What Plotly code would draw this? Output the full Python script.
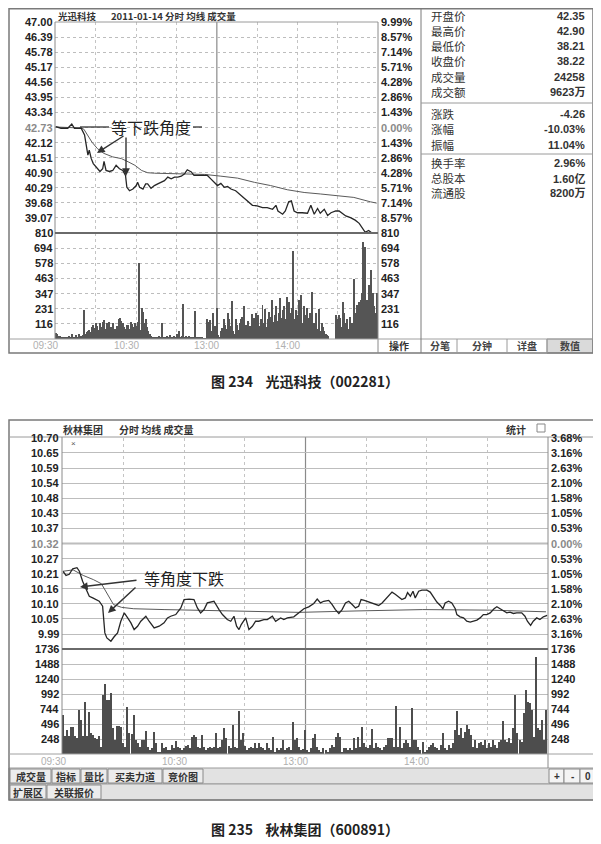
import plotly.graph_objects as go

# page is shown with the browser's default 8px body margin, so the figure is
# sized 8px smaller and all layout positions below are given in page pixels.
PAGE_OFF = 8
W, H = 601 - PAGE_OFF, 844 - PAGE_OFF
CJK = "Noto Sans CJK SC"
LAT = "Liberation Sans"

# ======================= DATA =======================
# ---- Chart 1: 光迅科技 2011-01-14 ----
c1_base = 42.73
c1_pct = [9.99, 8.57, 7.14, 5.71, 4.28, 2.86, 1.43, 0.00, -1.43, -2.86, -4.28, -5.71, -7.14, -8.57]
c1_price_labels = ["47.00", "46.39", "45.78", "45.17", "44.56", "43.95", "43.34", "42.73",
                   "42.12", "41.51", "40.90", "40.29", "39.68", "39.07"]
c1_pct_labels = ["9.99%", "8.57%", "7.14%", "5.71%", "4.28%", "2.86%", "1.43%", "0.00%",
                 "1.43%", "2.86%", "4.28%", "5.71%", "7.14%", "8.57%"]
c1_price_range = [38.46, 47.00]
c1_vol_ticks = [810, 694, 578, 463, 347, 231, 116]
c1_vol_max = 810

c1_price = [(0, 42.77), (4, 42.70), (9, 42.70), (12, 42.87), (14, 42.70), (19, 42.70), (21.5, 42.43),
            (23, 41.88), (24, 41.61), (25, 41.81), (26.5, 41.47), (28, 41.27), (30, 41.13), (33, 40.95),
            (35, 41.06), (36, 41.36), (37.5, 40.99), (40, 40.95), (42.5, 40.99), (45, 41.20), (47.5, 41.06),
            (50, 40.99), (52, 40.79), (53, 40.31), (55, 40.17), (57.5, 40.24), (60, 40.38), (61, 40.51),
            (62.5, 40.31), (65, 40.24), (67, 40.45), (68.5, 40.45), (71, 40.27), (73.5, 40.38), (76, 40.45),
            (78.5, 40.51), (81, 40.58), (83.5, 40.72), (86, 40.65), (88.5, 40.72), (91, 40.72), (93.5, 40.76),
            (96, 40.86), (98, 41.02), (101, 40.93), (103, 40.79), (105.5, 40.79), (109, 40.82), (113, 40.79),
            (115.5, 40.65), (118, 40.51), (120.5, 40.38), (123, 40.47), (125.5, 40.31), (128, 40.34),
            (130.5, 40.24), (134, 40.17), (138, 39.97), (141.5, 39.83), (144, 39.67), (146.5, 39.58),
            (150, 39.56), (154, 39.49), (157.5, 39.49), (161.5, 39.42), (164, 39.58), (165.5, 39.35),
            (169, 39.22), (171, 39.35), (173.5, 39.72), (175.5, 39.76), (177.5, 39.35), (180, 39.28),
            (183.5, 39.28), (187.5, 39.26), (190, 39.58), (192.5, 39.22), (195, 39.45), (197, 39.26),
            (200, 39.42), (202.5, 39.17), (205, 39.28), (208.5, 39.35), (211, 39.35), (213.5, 39.26),
            (216, 39.15), (219.5, 39.08), (223, 38.98), (226, 38.85), (228, 38.67), (230.5, 38.49),
            (233, 38.56), (235.5, 38.46), (239, 38.46)]

c1_avg = [(0, 42.75), (10, 42.73), (19, 42.71), (21, 42.66), (23, 42.49), (27, 42.14), (31, 41.88),
          (36, 41.68), (42.5, 41.54), (49, 41.47), (54, 41.34), (59, 41.20), (64, 40.99), (68.5, 40.90),
          (73.5, 40.88), (86, 40.87), (98, 40.86), (111, 40.83), (123, 40.76), (135.5, 40.68),
          (148, 40.51), (160, 40.38), (172.5, 40.21), (185, 40.10), (197, 40.04), (210, 39.97),
          (222, 39.90), (234.5, 39.72), (239, 39.67)]

c1_vol = [45, 35, 25, 20, 15, 12, 10, 8, 12, 15,
          20, 12, 35, 10, 8, 30, 12, 40, 15, 20,
          30, 222, 35, 50, 60, 70, 55, 95, 110, 85,
          120, 100, 70, 125, 90, 130, 145, 75, 120, 110,
          130, 90, 60, 125, 80, 45, 100, 150, 160, 135,
          120, 90, 75, 110, 105, 80, 130, 115, 95, 120,
          100, 130, 578, 70, 234, 209, 120, 150, 90, 60,
          40, 25, 15, 12, 10, 18, 8, 20, 10, 120,
          12, 15, 10, 25, 12, 30, 18, 12, 25, 10,
          35, 30, 60, 15, 20, 267, 15, 25, 12, 20,
          15, 18, 12, 10, 214, 12, 15, 10, 8, 10,
          5, 4, 3, 150, 130, 145, 60, 196, 40, 100,
          234, 30, 15, 60, 85, 150, 110, 80, 196, 150,
          100, 293, 60, 40, 150, 110, 70, 120, 150, 165,
          252, 60, 110, 140, 90, 100, 190, 120, 160, 200,
          120, 180, 100, 150, 260, 120, 230, 90, 150, 210,
          170, 298, 130, 180, 250, 140, 200, 310, 160, 220,
          250, 150, 323, 200, 280, 200, 240, 675, 150, 220,
          180, 300, 200, 336, 120, 250, 180, 240, 160, 200,
          150, 362, 120, 100, 200, 80, 227, 60, 120, 90,
          60, 40, 30, 20, 0, 0, 0, 0, 0, 183,
          150, 180, 160, 90, 285, 200, 120, 150, 80, 170,
          100, 120, 456, 200, 260, 180, 280, 300, 350, 744,
          705, 250, 300, 412, 280, 527, 350, 250, 200, 351]

c1_stats = [("开盘价", "42.35"), ("最高价", "42.90"), ("最低价", "38.21"), ("收盘价", "38.22"),
            ("成交量", "24258"), ("成交额", "9623万"), ("涨跌", "-4.26"), ("涨幅", "-10.03%"),
            ("振幅", "11.04%"), ("换手率", "2.96%"), ("总股本", "1.60亿"), ("流通股", "8200万")]
c1_tabs = ["分笔", "分钟", "详盘", "数值"]

# ---- Chart 2: 秋林集团 ----
c2_base = 10.32
c2_pct = [3.68, 3.16, 2.63, 2.10, 1.58, 1.05, 0.53, 0.00, -0.53, -1.05, -1.58, -2.10, -2.63, -3.16]
c2_price_labels = ["10.70", "10.65", "10.59", "10.54", "10.48", "10.43", "10.37", "10.32",
                   "10.27", "10.21", "10.16", "10.10", "10.05", "9.99"]
c2_pct_labels = ["3.68%", "3.16%", "2.63%", "2.10%", "1.58%", "1.05%", "0.53%", "0.00%",
                 "0.53%", "1.05%", "1.58%", "2.10%", "2.63%", "3.16%"]
c2_price_range = [9.94, 10.70]
c2_vol_ticks = [1736, 1488, 1240, 992, 744, 496, 248]
c2_vol_max = 1736

c2_price = [(0, 10.220), (1.5, 10.205), (3.1, 10.209), (4.8, 10.229), (6.9, 10.233), (8.1, 10.22),
            (9.7, 10.184), (11.4, 10.154), (13, 10.13), (14.7, 10.124), (16.3, 10.118), (17.9, 10.112),
            (19.6, 10.094), (20.7, 9.998), (21.7, 9.98), (23.7, 9.968), (25.3, 9.984), (27, 9.998),
            (28.6, 10.04), (30.3, 10.07), (32, 10.052), (33.6, 10.034), (35.2, 10.01), (36.9, 10.022),
            (38.5, 10.04), (41, 10.058), (42.6, 10.04), (45.1, 10.016), (47.6, 10.022), (50, 10.034),
            (51.7, 10.052), (53.3, 10.058), (55.8, 10.064), (58.3, 10.088), (59.9, 10.118), (62.4, 10.12),
            (64.8, 10.118), (66.5, 10.088), (68.1, 10.07), (69.8, 10.082), (71.4, 10.106), (74.7, 10.112),
            (77.2, 10.082), (78.9, 10.064), (81.3, 10.046), (83, 10.04), (84.6, 10.058), (85.9, 10.022),
            (87.1, 10.01), (88.2, 10.028), (90.4, 10.052), (92, 10.01), (93.7, 10.022), (95.3, 10.04),
            (96.9, 10.04), (99.4, 10.046), (101.1, 10.046), (103.6, 10.058), (105.2, 10.04),
            (107.7, 10.052), (109.3, 10.046), (111, 10.052), (114.2, 10.056), (116.7, 10.07),
            (119.2, 10.085), (121.6, 10.092), (124.1, 10.104), (125.8, 10.12), (127.4, 10.106),
            (129, 10.112), (131.5, 10.115), (133.2, 10.1), (134.8, 10.082), (136.5, 10.068),
            (138.1, 10.082), (139.8, 10.106), (141.4, 10.112), (143.1, 10.1), (144.7, 10.088),
            (146.3, 10.094), (147.5, 10.118), (149.1, 10.115), (151.3, 10.109), (152.9, 10.106),
            (154.6, 10.1), (156.2, 10.097), (157.9, 10.106), (160.3, 10.124), (162.8, 10.145),
            (164.4, 10.137), (166.1, 10.128), (167.7, 10.118), (169.4, 10.124), (170.5, 10.143),
            (171.9, 10.13), (173.2, 10.148), (174.3, 10.124), (176, 10.148), (177.6, 10.152),
            (180.1, 10.152), (181.7, 10.145), (183.4, 10.124), (185, 10.109), (186.7, 10.097),
            (188, 10.085), (189.1, 10.106), (190.8, 10.112), (192.4, 10.106), (194.1, 10.085),
            (194.9, 10.064), (196.5, 10.056), (198.2, 10.052), (199.8, 10.04), (201.5, 10.037),
            (203.1, 10.04), (204.8, 10.044), (206.4, 10.052), (208, 10.064), (209.7, 10.064),
            (211.4, 10.07), (213.3, 10.085), (214.7, 10.092), (216.3, 10.085), (217.9, 10.077),
            (219.6, 10.07), (221.2, 10.073), (222.9, 10.068), (224.5, 10.07), (227, 10.07),
            (228.6, 10.058), (229.8, 10.04), (231.4, 10.025), (232.7, 10.04), (234.4, 10.052),
            (236, 10.046), (237.7, 10.056), (239.6, 10.061)]

c2_avg = [(0, 10.22), (5, 10.225), (10, 10.205), (15, 10.19), (19, 10.175), (21, 10.15), (23, 10.12),
          (25, 10.10), (29, 10.09), (35, 10.085), (50, 10.082), (85, 10.077), (117, 10.072),
          (145, 10.077), (178, 10.082), (211, 10.08), (239, 10.074)]

c2_vol = [645, 290, 397, 300, 440, 450, 290, 260, 727, 562,
          290, 865, 290, 700, 340, 310, 260, 240, 290, 120,
          975, 1157, 893, 893, 1003, 424, 230, 463, 463, 440,
          180, 120, 782, 341, 330, 645, 230, 180, 120, 230,
          230, 386, 120, 65, 95, 369, 180, 40, 30, 180,
          95, 120, 60, 70, 150, 95, 215, 120, 95, 65,
          95, 130, 150, 95, 287, 314, 287, 120, 95, 314,
          120, 65, 95, 120, 95, 120, 342, 95, 120, 230,
          424, 260, 130, 95, 480, 120, 95, 716, 230, 342,
          130, 65, 95, 120, 95, 180, 95, 180, 120, 95,
          65, 180, 95, 65, 287, 40, 95, 65, 95, 231,
          65, 95, 120, 60, 534, 230, 260, 120, 65, 80,
          397, 60, 40, 95, 259, 330, 120, 65, 40, 95,
          65, 40, 95, 150, 120, 287, 353, 287, 40, 95,
          95, 65, 95, 65, 260, 95, 287, 120, 440, 180,
          120, 95, 150, 408, 95, 180, 120, 95, 65, 120,
          150, 260, 270, 260, 120, 793, 120, 440, 95, 180,
          230, 180, 120, 755, 230, 230, 120, 65, 205, 40,
          65, 120, 150, 180, 120, 95, 65, 150, 342, 95,
          65, 150, 95, 180, 397, 716, 314, 424, 260, 370,
          480, 408, 314, 120, 230, 95, 180, 200, 150, 230,
          95, 180, 120, 230, 150, 95, 200, 230, 551, 230,
          200, 260, 180, 424, 975, 340, 230, 200, 672, 1058,
          865, 838, 720, 287, 1609, 424, 397, 562, 230, 727]

time_labels = ["09:30", "10:30", "13:00", "14:00"]
time_minutes = [0, 60, 120, 180]
c2_tabs_row1 = ["成交量", "指标", "量比", "买卖力道", "竞价图"]
c2_tabs_row2 = ["扩展区", "关联报价"]
c2_tabs_right = ["+", "-", "0"]


# ======================= HELPERS =======================
def px(x):
    return (x - PAGE_OFF) / W


def py(y):
    return 1 - (y - PAGE_OFF) / H


shapes = []
annotations = []


def line(x0, y0, x1, y1, color="#8c8c8c", width=1, dash="solid", layer="above"):
    shapes.append(dict(type="line", xref="paper", yref="paper", x0=px(x0), y0=py(y0),
                       x1=px(x1), y1=py(y1), line=dict(color=color, width=width, dash=dash),
                       layer=layer))


def rect(x0, y0, x1, y1, color="#8c8c8c", fill="rgba(0,0,0,0)", width=1, layer="above"):
    shapes.append(dict(type="rect", xref="paper", yref="paper", x0=px(x0), y0=py(y0),
                       x1=px(x1), y1=py(y1), line=dict(color=color, width=width),
                       fillcolor=fill, layer=layer))


def text(x, y, s, size=11, color="#222", xa="center", fam=CJK, xref="paper", yref="paper",
         xshift=0):
    annotations.append(dict(x=x, y=y, xref=xref, yref=yref, text=s, showarrow=False, xanchor=xa,
                            yanchor="middle", xshift=xshift, borderpad=0,
                            font=dict(family=fam, size=size, color=color)))


def arrow(tipx, tipy, tailx, taily):
    annotations.append(dict(x=px(tipx), y=py(tipy), xref="paper", yref="paper", text="",
                            showarrow=True, ax=tailx - tipx, ay=taily - tipy, arrowhead=2,
                            arrowsize=1.1, arrowwidth=1.4, arrowcolor="#333"))


# ======================= FIGURE =======================
fig = go.Figure()

# chart 1
fig.add_trace(go.Scatter(x=[t for t, _ in c1_avg], y=[v for _, v in c1_avg], xaxis="x", yaxis="y",
                         mode="lines", line=dict(color="#5a5a5a", width=1), hoverinfo="skip"))
fig.add_trace(go.Scatter(x=[t for t, _ in c1_price], y=[v for _, v in c1_price], xaxis="x", yaxis="y",
                         mode="lines", line=dict(color="#262626", width=1.3), hoverinfo="skip"))
fig.add_trace(go.Bar(x=list(range(len(c1_vol))), y=c1_vol, xaxis="x2", yaxis="y2", width=0.75,
                     marker=dict(color="#555555", line=dict(width=0)), hoverinfo="skip"))
# chart 2
fig.add_trace(go.Scatter(x=[t for t, _ in c2_avg], y=[v for _, v in c2_avg], xaxis="x3", yaxis="y3",
                         mode="lines", line=dict(color="#5a5a5a", width=1), hoverinfo="skip"))
fig.add_trace(go.Scatter(x=[t for t, _ in c2_price], y=[v for _, v in c2_price], xaxis="x3", yaxis="y3",
                         mode="lines", line=dict(color="#262626", width=1.3), hoverinfo="skip"))
fig.add_trace(go.Bar(x=list(range(len(c2_vol))), y=c2_vol, xaxis="x4", yaxis="y4", width=0.7,
                     marker=dict(color="#4d4d4d", line=dict(width=0)), hoverinfo="skip"))

c1_ticks = [c1_base * (1 + p / 100) for p in c1_pct]
c2_ticks = [c2_base * (1 + p / 100) for p in c2_pct]

xgrid = dict(showticklabels=False, ticks="", showline=False, zeroline=False, showgrid=True,
             gridcolor="#c4c4c4", griddash="dot", gridwidth=1,
             tickvals=[30, 60, 90, 150, 180, 210], range=[-0.5, 240], fixedrange=True)


def ygrid(vals, rng, dash):
    return dict(showticklabels=False, ticks="", showline=False, zeroline=False, showgrid=True,
                gridcolor="#bdbdbd", griddash=dash, gridwidth=1, tickvals=vals, range=rng,
                fixedrange=True)


fig.update_layout(
    width=W, height=H, margin=dict(l=0, r=0, t=0, b=0),
    paper_bgcolor="white", plot_bgcolor="white", showlegend=False, bargap=0,
    xaxis=dict(domain=[px(55), px(378)], anchor="y", **xgrid),
    yaxis=dict(domain=[py(233), py(22)], anchor="x", **ygrid(c1_ticks, c1_price_range, "dot")),
    xaxis2=dict(domain=[px(55), px(378)], anchor="y2", **xgrid),
    yaxis2=dict(domain=[py(339), py(233)], anchor="x2", **ygrid(c1_vol_ticks, [0, c1_vol_max], "dot")),
    xaxis3=dict(domain=[px(62), px(548)], anchor="y3", **xgrid),
    yaxis3=dict(domain=[py(649), py(438)], anchor="x3", **ygrid(c2_ticks, c2_price_range, "solid")),
    xaxis4=dict(domain=[px(62), px(548)], anchor="y4", **xgrid),
    yaxis4=dict(domain=[py(754), py(649)], anchor="x4", **ygrid(c2_vol_ticks, [0, c2_vol_max], "solid")),
)

# ---------------- chart 1 frame ----------------
rect(9, 8.8, 593, 353, color="#7a7a7a", width=1.5)
line(55, 22, 378, 22, color="#9a9a9a")
line(55, 22, 55, 339, color="#8a8a8a")
line(378, 22, 378, 353, color="#8a8a8a")
line(9, 339, 593, 339, color="#a0a0a0")
line(421, 8.8, 421, 353, color="#7a7a7a")
line(421, 103, 593, 103, color="#9a9a9a")
line(421, 154, 593, 154, color="#9a9a9a")
rect(547, 339, 593, 353, color="#9a9a9a", fill="#dadada", layer="below")
for xd in [457, 507, 547]:
    line(xd, 339, xd, 353, color="#9a9a9a")
line(55, 233, 378, 233, color="#6a6a6a", width=2)
shapes.append(dict(type="line", xref="x", yref="paper", x0=120, x1=120, y0=py(339), y1=py(22),
                   line=dict(color="#8a8a8a", width=1.2), layer="below"))

# chart 1 texts
text(px(57), py(15.5), "<b>光迅科技</b>", size=9.5, xa="left", color="#333")
text(px(110), py(15.5), "<b>2011-01-14 分时 均线 成交量</b>", size=9.5, xa="left", color="#333")
for lbl, pl, p in zip(c1_price_labels, c1_pct_labels, c1_pct):
    col = "#8a8a8a" if p == 0 else "#222"
    yv = c1_base * (1 + p / 100)
    text(px(54), yv, "<b>%s</b>" % lbl, size=11, xa="right", fam=LAT, yref="y", color=col)
    text(px(380), yv, "<b>%s</b>" % pl, size=11, xa="left", fam=LAT, yref="y", color=col)
for v in c1_vol_ticks:
    text(px(54), v, "<b>%d</b>" % v, size=11, xa="right", fam=LAT, yref="y2")
    text(px(380), v, "<b>%d</b>" % v, size=11, xa="left", fam=LAT, yref="y2")
for lbl, m in zip(time_labels, time_minutes):
    text(m, py(346), lbl, size=10, color="#b0b0b0", fam=LAT, xref="x", xshift=-10)
text(px(399), py(346), "<b>操作</b>", size=10, color="#333")
for lbl, cx in zip(c1_tabs, [440, 482, 527, 570]):
    text(px(cx), py(346), "<b>%s</b>" % lbl, size=10, color="#444")
stat_rows = [16, 31, 46, 61, 77, 92, 114, 129, 145, 163, 178, 193]
for (lbl, val), yy in zip(c1_stats, stat_rows):
    text(px(430), py(yy), lbl, size=11.5, xa="left", color="#333")
    text(px(586), py(yy), "<b>%s</b>" % val, size=11, xa="right", color="#333",
         fam=LAT + ", " + CJK)

# chart 1 annotation
line(80, 127, 109, 127, color="#333", width=1.3)
line(193, 127, 202, 127, color="#333", width=1.3)
text(px(151), py(127), "等下跌角度", size=16, color="#222")
arrow(97, 153, 125, 135)
arrow(126, 176, 126, 136)

text(px(305), py(381), "<b>图 234</b>    <b>光迅科技（002281）</b>", size=14, color="#222")

# ---------------- chart 2 frame ----------------
rect(9, 420, 595, 800, color="#7a7a7a", width=1.5)
line(9, 437, 595, 437, color="#9a9a9a")
line(62, 437, 62, 754, color="#8a8a8a")
line(548, 437, 548, 768, color="#8a8a8a")
line(9, 754, 595, 754, color="#a0a0a0")
rect(9, 768, 595, 784, color="#9a9a9a", fill="#e2e2e2", layer="below")
rect(9, 784, 595, 800, color="#9a9a9a", fill="#e2e2e2", layer="below")
line(62, 649, 548, 649, color="#6a6a6a", width=2)
shapes.append(dict(type="line", xref="paper", yref="y3", x0=px(62), x1=px(548), y0=c2_base, y1=c2_base,
                   line=dict(color="#7a7a7a", width=1.3), layer="below"))
shapes.append(dict(type="line", xref="x3", yref="paper", x0=120, x1=120, y0=py(754), y1=py(437),
                   line=dict(color="#8a8a8a", width=1.2), layer="below"))

text(px(62), py(429), "<b>秋林集团</b>", size=10, xa="left", color="#333")
text(px(118), py(429), "<b>分时 均线 成交量</b>", size=10, xa="left", color="#333")
text(px(516), py(429), "<b>统计</b>", size=10, color="#333")
rect(537, 424, 545, 432, color="#888", fill="white")
text(px(73), py(444), "×", size=8, color="#555", fam=LAT)
for lbl, pl, p in zip(c2_price_labels, c2_pct_labels, c2_pct):
    col = "#8a8a8a" if p == 0 else "#222"
    yv = c2_base * (1 + p / 100)
    text(px(60), yv, "<b>%s</b>" % lbl, size=11, xa="right", fam=LAT, yref="y3", color=col)
    text(px(550), yv, "<b>%s</b>" % pl, size=11, xa="left", fam=LAT, yref="y3", color=col)
for v in c2_vol_ticks:
    text(px(60), v, "<b>%d</b>" % v, size=11, xa="right", fam=LAT, yref="y4")
    text(px(550), v, "<b>%d</b>" % v, size=11, xa="left", fam=LAT, yref="y4")
for lbl, m in zip(time_labels, time_minutes):
    text(m, py(761), lbl, size=10, color="#b0b0b0", fam=LAT, xref="x3", xshift=-10)

row1_boxes = [(10, 51), (52, 80), (81, 107), (108, 162), (163, 203)]
for lbl, (a, b) in zip(c2_tabs_row1, row1_boxes):
    rect(a, 769, b, 783, color="#8a8a8a", fill="#ececec", layer="below")
    text(px((a + b) / 2), py(776), "<b>%s</b>" % lbl, size=10, color="#333")
row2_boxes = [(10, 46), (47, 101)]
for lbl, (a, b) in zip(c2_tabs_row2, row2_boxes):
    rect(a, 785, b, 799, color="#8a8a8a", fill="#ececec", layer="below")
    text(px((a + b) / 2), py(792), "<b>%s</b>" % lbl, size=10, color="#333")
right_boxes = [(549, 564), (564, 580), (580, 595)]
for lbl, (a, b) in zip(c2_tabs_right, right_boxes):
    rect(a, 769, b, 783, color="#8a8a8a", fill="#f4f4f4", layer="below")
    text(px((a + b) / 2), py(776), "<b>%s</b>" % lbl, size=10, color="#333", fam=LAT)

text(px(184), py(578), "等角度下跌", size=16, color="#222")
arrow(80, 587, 138, 580)
arrow(108, 613, 137, 586)

text(px(305), py(829), "<b>图 235</b>    <b>秋林集团（600891）</b>", size=14, color="#222")

fig.update_layout(shapes=shapes, annotations=annotations)
fig.write_html("out.html")
